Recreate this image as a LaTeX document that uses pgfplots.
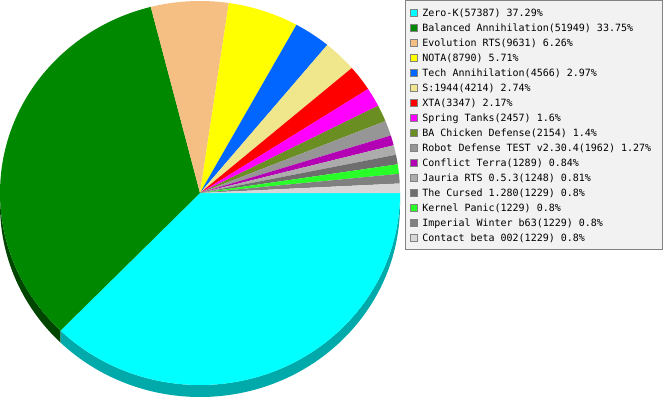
\documentclass[border=0pt]{standalone}
\usepackage{fontspec}
\newfontfamily\legfam{DejaVu Sans Mono}
\usepackage{pgfplots}
\usepackage{pgfplotstable}
\pgfplotsset{compat=1.18}

% slice colours (top) and the two visible side colours
\definecolor{c0}{RGB}{0,255,255}
\definecolor{c1}{RGB}{0,136,0}
\definecolor{c2}{RGB}{245,190,130}
\definecolor{c3}{RGB}{255,255,0}
\definecolor{c4}{RGB}{0,102,255}
\definecolor{c5}{RGB}{240,230,140}
\definecolor{c6}{RGB}{255,0,0}
\definecolor{c7}{RGB}{255,0,255}
\definecolor{c8}{RGB}{107,142,35}
\definecolor{c9}{RGB}{150,150,150}
\definecolor{c10}{RGB}{180,0,180}
\definecolor{c11}{RGB}{172,172,172}
\definecolor{c12}{RGB}{110,110,110}
\definecolor{c13}{RGB}{40,255,40}
\definecolor{c14}{RGB}{128,128,128}
\definecolor{c15}{RGB}{215,215,215}
\definecolor{s0}{RGB}{0,170,170}
\definecolor{s1}{RGB}{0,70,0}
\definecolor{legbg}{RGB}{242,242,242}
\definecolor{legline}{RGB}{130,130,130}

% game, players, share in percent, top colour, side colour
\pgfplotstableread[col sep=comma]{
name,count,pct,top,side
Zero-K,57387,37.29,c0,s0
Balanced Annihilation,51949,33.75,c1,s1
Evolution RTS,9631,6.26,c2,c2
NOTA,8790,5.71,c3,c3
Tech Annihilation,4566,2.97,c4,c4
S:1944,4214,2.74,c5,c5
XTA,3347,2.17,c6,c6
Spring Tanks,2457,1.6,c7,c7
BA Chicken Defense,2154,1.4,c8,c8
Robot Defense TEST v2.30.4,1962,1.27,c9,c9
Conflict Terra,1289,0.84,c10,c10
Jauria RTS 0.5.3,1248,0.81,c11,c11
The Cursed 1.280,1229,0.8,c12,c12
Kernel Panic,1229,0.8,c13,c13
Imperial Winter b63,1229,0.8,c14,c14
Contact beta 002,1229,0.8,c15,c15
}\piedata

\begin{document}
\begin{tikzpicture}
\begin{axis}[
  width=665bp, height=400bp, scale only axis,
  xmin=0, xmax=665, ymin=0, ymax=400,
  hide axis, ticks=none, clip=false,
]
\pgfplotsextra{%
  \coordinate (bbl) at (axis cs:0,0);
  \coordinate (btr) at (axis cs:665,400);
  \pgfplotstablegetrowsof{\piedata}%
  \pgfmathtruncatemacro\lastrow{\pgfplotsretval-1}%
  % side of the pie (front half only)
  \xdef\angA{0}%
  \foreach \i in {0,...,\lastrow}{%
    \pgfplotstablegetelem{\i}{pct}\of{\piedata}%
    \pgfmathsetmacro\angB{\angA-3.6*\pgfplotsretval}%
    \pgfplotstablegetelem{\i}{side}\of{\piedata}%
    \edef\sidecol{\pgfplotsretval}%
    \pgfmathtruncatemacro\vis{\angA>-180 ? 1 : 0}%
    \ifnum\vis=1
      \pgfmathsetmacro\angS{max(\angB,-180)}%
      \fill[\sidecol] (axis cs:200,207) ++(\angA:200bp and 192bp) -- ++(0,-12bp)
        arc[start angle=\angA, end angle=\angS, x radius=200bp, y radius=192bp]
        -- ++(0,12bp)
        arc[start angle=\angS, end angle=\angA, x radius=200bp, y radius=192bp] -- cycle;
    \fi
    \xdef\angA{\angB}%
  }%
  % top of the pie
  \xdef\angA{0}%
  \foreach \i in {0,...,\lastrow}{%
    \pgfplotstablegetelem{\i}{pct}\of{\piedata}%
    \pgfmathsetmacro\angB{\angA-3.6*\pgfplotsretval}%
    \pgfplotstablegetelem{\i}{top}\of{\piedata}%
    \edef\topcol{\pgfplotsretval}%
    \fill[\topcol] (axis cs:200,207) -- ++(\angA:200bp and 192bp)
      arc[start angle=\angA, end angle=\angB, x radius=200bp, y radius=192bp] -- cycle;
    \xdef\angA{\angB}%
  }%
  % legend
  \draw[line width=1bp, legline, fill=legbg] (axis cs:405.5,399.5) rectangle (axis cs:662.5,150.5);
  \foreach \i in {0,...,\lastrow}{%
    \pgfplotstablegetelem{\i}{name}\of{\piedata}\edef\nm{\pgfplotsretval}%
    \pgfplotstablegetelem{\i}{count}\of{\piedata}\edef\ct{\pgfplotsretval}%
    \pgfplotstablegetelem{\i}{pct}\of{\piedata}\edef\pc{\pgfplotsretval}%
    \pgfplotstablegetelem{\i}{top}\of{\piedata}\edef\topcol{\pgfplotsretval}%
    \pgfmathsetmacro\ya{390.5-15*\i}%
    \pgfmathsetmacro\yb{383.5-15*\i}%
    \pgfmathsetmacro\yt{384-15*\i}%
    \draw[line width=1bp, legline, fill=\topcol] (axis cs:410.5,\ya) rectangle (axis cs:417.5,\yb);
    \node[anchor=base west, inner sep=0pt, font=\legfam\fontsize{10bp}{12bp}\selectfont]
      at (axis cs:422.2,\yt) {\nm(\ct) \pc\%};
  }%
}
\end{axis}
\pgfresetboundingbox
\path[use as bounding box] (bbl) rectangle (btr);
\end{tikzpicture}
\end{document}
